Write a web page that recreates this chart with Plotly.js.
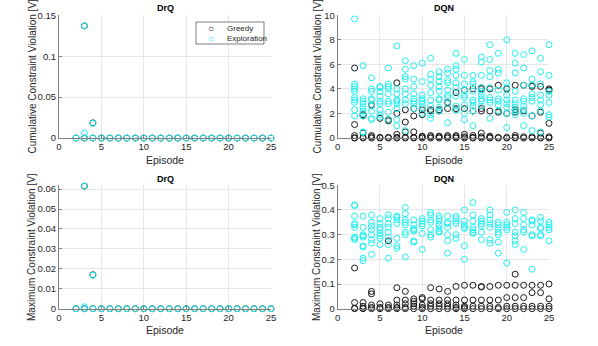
<!DOCTYPE html>
<html>
<head>
<meta charset="utf-8">
<script src="https://cdn.plot.ly/plotly-3.0.1.min.js"></script>
<style>
  html, body { margin: 0; padding: 0; background: #fff; }
  #plot { width: 598px; height: 346px; }
</style>
</head>
<body>
<div id="plot"></div>
<script>
// episodes 2..25, one list of run values per episode
var episodes = [2,3,4,5,6,7,8,9,10,11,12,13,14,15,16,17,18,19,20,21,22,23,24,25];
var seriesNames = ['Greedy', 'Exploration'];

// DrQ, cumulative violation
var drqCumGreedy = [[0],[0.137,0],[0.0185,0],[0],[0],[0],[0],[0],[0],[0],[0],[0],[0],[0],[0],[0],[0],[0],[0],[0],[0],[0],[0],[0]];
var drqCumExplore = [[0],[0.137,0.006,0],[0.018,0],[0],[0],[0],[0],[0],[0],[0],[0],[0],[0],[0],[0],[0],[0],[0],[0],[0],[0],[0],[0],[0]];

// DrQ, maximum violation
var drqMaxGreedy = [[0],[0.0615,0],[0.017,0],[0],[0],[0],[0],[0],[0],[0],[0],[0],[0],[0],[0],[0],[0],[0],[0],[0],[0],[0],[0],[0]];
var drqMaxExplore = [[0],[0.0615,0.001,0],[0.0168,0],[0],[0],[0],[0],[0],[0],[0],[0],[0],[0],[0],[0],[0],[0],[0],[0],[0],[0],[0],[0],[0]];

// DQN, cumulative violation
var dqnCumGreedy = [
  [5.7,1.1,0.2,0,0.02],
  [1.9,1.8,0.4,0,0.05],
  [2.7,0.2,0.1,0],
  [1.6,0.05,0],
  [1.5,1.4,0.05,0],
  [4.5,2.0,0.3,0.05,0],
  [2.3,1.3,0.5,0.05,0],
  [2.4,1.8,0.5,0.05,0],
  [2.3,1.9,0.15,0.1,0],
  [2.3,2.2,0.2,0.1,0],
  [2.3,2.2,0.15,0.1,0],
  [2.9,2.4,0.2,0.1,0],
  [3.7,2.4,2.3,0.2,0.1,0],
  [3.9,2.4,0.3,0.1,0],
  [4.0,2.2,0.2,0.05,0],
  [4.1,4.0,2.4,2.2,0.4,0.1,0],
  [4.0,2.2,0.15,0.05,0],
  [4.3,2.2,2.1,0.05,0],
  [4.0,2.0,0.05,0],
  [4.3,2.3,2.1,0.2,0.05,0],
  [4.3,2.2,0.1,0],
  [4.3,4.2,1.8,0.1,0],
  [4.2,2.1,0.4,0.05,0],
  [4.0,3.9,1.2,0.1,0]
];
var dqnCumExplore = [
  [9.7,4.4,4.2,4.0,3.8,3.3,3.1,2.9,2.3,1.8],
  [5.9,3.2,3.0,2.8,2.5,2.2,2.0,1.8,0.5,0.45],
  [4.9,4.0,3.8,3.2,3.1,2.6,2.2,1.6,1.5],
  [4.2,4.1,3.8,3.4,3.0,2.8,2.3,1.9,1.7],
  [5.7,4.4,4.2,4.0,3.6,3.0,2.8,2.1,1.5],
  [7.5,4.0,3.6,3.1,3.0,2.8,2.4,1.5,1.0],
  [6.3,5.6,5.0,4.8,4.0,3.6,3.1,2.8,0.6],
  [5.9,4.8,4.2,3.6,3.2,3.0,2.8,2.4],
  [6.1,4.6,3.5,3.2,3.0,2.8,2.5,2.0],
  [6.5,5.2,4.8,4.3,3.7,3.1,2.6,1.9,1.6],
  [5.4,5.0,4.6,4.2,3.8,3.2,3.1,2.5,2.2],
  [5.6,5.3,4.7,4.5,3.9,3.5,3.3,2.8,1.25],
  [6.9,5.9,5.6,5.1,4.5,4.1,3.4,2.6,2.3],
  [6.4,5.1,4.4,3.9,3.5,3.3,2.7,2.0,1.5],
  [5.1,4.6,4.4,3.8,3.1,2.9,2.6,2.2,1.0],
  [6.6,6.2,5.1,4.1,3.8,3.5,3.2,3.0,2.6],
  [7.6,6.4,5.5,5.0,4.1,3.3,3.1,2.9,1.6],
  [6.9,5.6,5.3,3.9,3.2,3.0,2.7,2.2],
  [8.0,4.5,4.1,3.5,3.1,2.8,2.5,2.0,0.85],
  [6.9,6.1,5.3,3.8,3.1,2.8,2.5,2.2,1.9],
  [6.8,5.7,4.3,3.2,3.0,2.6,2.3,2.0,1.0],
  [7.1,4.8,4.3,3.6,3.3,3.0,1.8,0.6],
  [6.5,5.4,4.4,3.5,3.1,2.7,2.2,0.5],
  [7.6,5.1,3.8,3.5,2.9,1.9,1.7]
];

// DQN, maximum violation
var dqnMaxGreedy = [
  [0.165,0.025,0.002,0],
  [0.025,0.01,0.002,0],
  [0.07,0.06,0.015,0.005,0],
  [0.02,0.005,0],
  [0.275,0.015,0.005,0],
  [0.085,0.035,0.015,0.005,0],
  [0.07,0.035,0.02,0.005,0],
  [0.04,0.03,0.02,0.01,0],
  [0.045,0.04,0.015,0.005,0],
  [0.085,0.035,0.02,0.01,0],
  [0.08,0.035,0.02,0.01,0],
  [0.07,0.035,0.02,0.01,0],
  [0.09,0.035,0.015,0.005,0],
  [0.095,0.035,0.01,0.005,0],
  [0.095,0.035,0.01,0],
  [0.09,0.088,0.035,0.01,0],
  [0.09,0.035,0.01,0],
  [0.095,0.035,0.005,0],
  [0.095,0.045,0.01,0],
  [0.14,0.095,0.045,0.01,0],
  [0.095,0.045,0.01,0],
  [0.095,0.065,0.01,0],
  [0.095,0.065,0.01,0],
  [0.1,0.04,0.01,0]
];
var dqnMaxExplore = [
  [0.42,0.418,0.375,0.345,0.34,0.33,0.29,0.285,0.28],
  [0.375,0.33,0.30,0.295,0.29,0.255,0.25,0.205,0.195],
  [0.38,0.35,0.335,0.32,0.30,0.28,0.265,0.22],
  [0.365,0.345,0.33,0.32,0.305,0.295,0.285,0.26],
  [0.38,0.365,0.345,0.33,0.31,0.29,0.26,0.205],
  [0.375,0.37,0.36,0.345,0.285,0.255,0.245],
  [0.41,0.385,0.36,0.35,0.34,0.31,0.30,0.21],
  [0.36,0.34,0.325,0.32,0.315,0.275,0.27],
  [0.365,0.355,0.345,0.335,0.305,0.24],
  [0.39,0.38,0.36,0.35,0.32,0.30,0.29],
  [0.375,0.365,0.355,0.34,0.325,0.315,0.31],
  [0.375,0.35,0.345,0.33,0.30,0.275,0.225],
  [0.375,0.365,0.355,0.345,0.30,0.285],
  [0.40,0.355,0.34,0.33,0.325,0.255,0.20],
  [0.43,0.38,0.355,0.33,0.32,0.31,0.305],
  [0.365,0.355,0.345,0.335,0.31,0.28],
  [0.40,0.38,0.36,0.345,0.33,0.28,0.265],
  [0.35,0.34,0.325,0.31,0.30,0.27,0.225],
  [0.39,0.35,0.34,0.33,0.32,0.185],
  [0.40,0.365,0.345,0.31,0.295,0.275,0.26],
  [0.39,0.365,0.34,0.32,0.31,0.24],
  [0.36,0.355,0.34,0.30,0.295,0.16],
  [0.37,0.355,0.33,0.325,0.30,0.295],
  [0.35,0.34,0.33,0.32,0.275]
];

function flat(lists) {
  var x = [], y = [];
  for (var i = 0; i < lists.length; i++) {
    for (var j = 0; j < lists[i].length; j++) {
      x.push(episodes[i]);
      y.push(lists[i][j]);
    }
  }
  return {x: x, y: y};
}

var greedyCol = '#1a1a1a';
var exploreCol = '#22f0f0';
var fam = 'Liberation Sans, Arial, sans-serif';

function trace(lists, name, color, xa, ya) {
  var p = flat(lists);
  return {
    x: p.x, y: p.y, type: 'scatter', mode: 'markers', name: name,
    xaxis: xa, yaxis: ya, showlegend: false, cliponaxis: false,
    marker: {symbol: 'circle-open', size: 6, color: color, line: {width: 1, color: color}}
  };
}

var data = [
  trace(drqCumGreedy, seriesNames[0], greedyCol, 'x', 'y'),
  trace(drqCumExplore, seriesNames[1], exploreCol, 'x', 'y'),
  trace(dqnCumGreedy, seriesNames[0], greedyCol, 'x2', 'y2'),
  trace(dqnCumExplore, seriesNames[1], exploreCol, 'x2', 'y2'),
  trace(drqMaxGreedy, seriesNames[0], greedyCol, 'x3', 'y3'),
  trace(drqMaxExplore, seriesNames[1], exploreCol, 'x3', 'y3'),
  trace(dqnMaxGreedy, seriesNames[0], greedyCol, 'x4', 'y4'),
  trace(dqnMaxExplore, seriesNames[1], exploreCol, 'x4', 'y4')
];

var tickFont = {family: fam, size: 9.5, color: '#262626'};

function xax(dom, anchor) {
  return {
    domain: dom, anchor: anchor, range: [0, 25], tickvals: [0,5,10,15,20,25],
    showgrid: true, gridcolor: '#e6e6e6', zeroline: false,
    showline: true, linecolor: '#808080', linewidth: 1,
    ticks: 'inside', ticklen: 3, tickcolor: '#808080', tickfont: tickFont
  };
}
function yax(dom, anchor, range, ticks) {
  return {
    domain: dom, anchor: anchor, range: range, tickvals: ticks,
    showgrid: true, gridcolor: '#e6e6e6', zeroline: false,
    showline: true, linecolor: '#808080', linewidth: 1,
    ticks: 'inside', ticklen: 3, tickcolor: '#808080', tickfont: tickFont
  };
}

var W = 598, H = 346;
var colL = [59 / W, 271 / W], colR = [337.7 / W, 549 / W];
var rowT = [1 - 138 / H, 1 - 15.3 / H], rowB = [1 - 308.7 / H, 1 - 185.3 / H];
var cumLab = 'Cumulative Constraint Violation [V]';
var maxLab = 'Maximum Constraint Violation [V]';

function txt(text, px, py, size, color, angle, xanchor) {
  return {
    text: text, xref: 'paper', yref: 'paper', x: px / W, y: 1 - py / H,
    xanchor: xanchor || 'center', yanchor: 'middle', showarrow: false,
    textangle: angle || 0, font: {family: fam, size: size, color: color}
  };
}

var annotations = [
  txt('<b>DrQ</b>', 165, 8.5, 9, '#000'), txt('<b>DQN</b>', 443.5, 8.5, 9, '#000'),
  txt('<b>DrQ</b>', 165, 178.5, 9, '#000'), txt('<b>DQN</b>', 443.5, 178.5, 9, '#000'),
  txt('Episode', 165, 160, 10.5, '#262626'), txt('Episode', 443.5, 160, 10.5, '#262626'),
  txt('Episode', 165, 330, 10.5, '#262626'), txt('Episode', 443.5, 330, 10.5, '#262626'),
  txt(cumLab, 32, 76.5, 10, '#262626', -90), txt(cumLab, 317, 76.5, 10, '#262626', -90),
  txt(maxLab, 32, 247, 10, '#262626', -90), txt(maxLab, 317, 247, 10, '#262626', -90),
  // legend entries
  txt('○', 211, 28.8, 10, greedyCol), txt('○', 211, 38.5, 10, exploreCol),
  txt(seriesNames[0], 225, 28.8, 8, '#262626', 0, 'left'),
  txt(seriesNames[1], 225, 38.5, 8, '#262626', 0, 'left')
];

var layout = {
  width: W, height: H,
  margin: {l: 0, r: 0, t: 0, b: 0},
  paper_bgcolor: '#fff', plot_bgcolor: '#fff',
  showlegend: false,
  xaxis: xax(colL, 'y'),
  yaxis: yax(rowT, 'x', [0, 0.15], [0, 0.05, 0.1, 0.15]),
  xaxis2: xax(colR, 'y2'),
  yaxis2: yax(rowT, 'x2', [0, 10], [0,2,4,6,8,10]),
  xaxis3: xax(colL, 'y3'),
  yaxis3: yax(rowB, 'x3', [0, 0.0619], [0,0.01,0.02,0.03,0.04,0.05,0.06]),
  xaxis4: xax(colR, 'y4'),
  yaxis4: yax(rowB, 'x4', [0, 0.5], [0,0.1,0.2,0.3,0.4,0.5]),
  shapes: [{
    type: 'rect', xref: 'paper', yref: 'paper',
    x0: 196 / W, x1: 264 / W, y0: 1 - 44 / H, y1: 1 - 22 / H,
    line: {color: '#262626', width: 0.6}, fillcolor: '#fff', layer: 'above'
  }],
  annotations: annotations
};

Plotly.newPlot('plot', data, layout, {staticPlot: true});
</script>
</body>
</html>
